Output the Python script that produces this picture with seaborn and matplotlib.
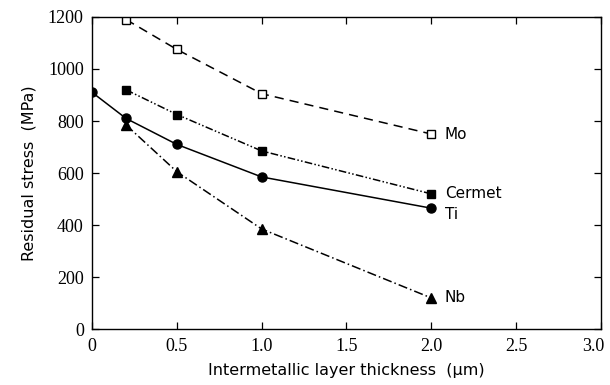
import matplotlib
matplotlib.use("Agg")
import matplotlib.pyplot as plt
import matplotlib.transforms as mtransforms
import seaborn as sns
import pandas as pd

# Data
mo_x = [0.2, 0.5, 1.0, 2.0]
mo_y = [1190, 1075, 905, 750]
cermet_x = [0.2, 0.5, 1.0, 2.0]
cermet_y = [920, 825, 685, 520]
ti_x = [0.0, 0.2, 0.5, 1.0, 2.0]
ti_y = [910, 810, 710, 585, 465]
nb_x = [0.2, 0.5, 1.0, 2.0]
nb_y = [785, 605, 385, 120]

series = [
    ("Mo", mo_x, mo_y, dict(ls=(0, (6, 4)), marker="s", mfc="white", ms=5.5), 750),
    ("Cermet", cermet_x, cermet_y, dict(ls=(0, (5, 1.5, 1, 1.5, 1, 1.5)), marker="s", mfc="black", ms=6), 520),
    ("Ti", ti_x, ti_y, dict(ls="-", marker="o", mfc="black", ms=6.5), 440),
    ("Nb", nb_x, nb_y, dict(ls=(0, (6, 2, 1, 2)), marker="^", mfc="black", ms=7), 120),
]

frames = []
for name, xs, ys, _, _ in series:
    frames.append(pd.DataFrame({"x": xs, "y": ys, "series": name}))
df = pd.concat(frames, ignore_index=True)

sns.set_style("ticks")
plt.rcParams["text.color"] = "black"
plt.rcParams["axes.labelcolor"] = "black"
fig = plt.figure(figsize=(6.1, 3.85), dpi=100)
ax = fig.add_axes([0.151, 0.145, 0.834, 0.811])

for name, xs, ys, st, ly in series:
    sub = df[df["series"] == name]
    sns.lineplot(data=sub, x="x", y="y", ax=ax, color="black", lw=1.1,
                 linestyle=st["ls"], marker=st["marker"], markersize=st["ms"],
                 markerfacecolor=st["mfc"], markeredgecolor="black",
                 markeredgewidth=1.0, legend=False, estimator=None, sort=False)
    ax.text(xs[-1] + 0.08, ly, name, va="center", ha="left", fontsize=11,
            family="DejaVu Sans", color="black")

ax.set_xlim(0, 3.0)
ax.set_ylim(0, 1200)
ax.set_xticks([0, 0.5, 1.0, 1.5, 2.0, 2.5, 3.0])
ax.set_xticklabels(["0", "0.5", "1.0", "1.5", "2.0", "2.5", "3.0"])
ax.set_yticks([0, 200, 400, 600, 800, 1000, 1200])
for lab in ax.get_xticklabels() + ax.get_yticklabels():
    lab.set_family("Liberation Serif")
    lab.set_fontsize(13)
    lab.set_color("black")
ax.tick_params(direction="in", top=True, right=True, length=5, width=0.9,
               colors="black", pad=6)
for sp in ax.spines.values():
    sp.set_linewidth(1.0)
    sp.set_color("black")
    sp.set_visible(True)

# shift the last x tick label slightly left so it stays inside the figure
last = ax.get_xticklabels()[-1]
last.set_transform(last.get_transform() +
                   mtransforms.ScaledTranslation(-8 / 100, 0, fig.dpi_scale_trans))

ax.set_xlabel("Intermetallic layer thickness  (\u03bcm)", fontsize=11.5,
              family="DejaVu Sans", labelpad=6)
ax.set_ylabel("Residual stress  (MPa)", fontsize=11.5, family="DejaVu Sans",
              labelpad=8)

fig.savefig("out.png", dpi=100)
